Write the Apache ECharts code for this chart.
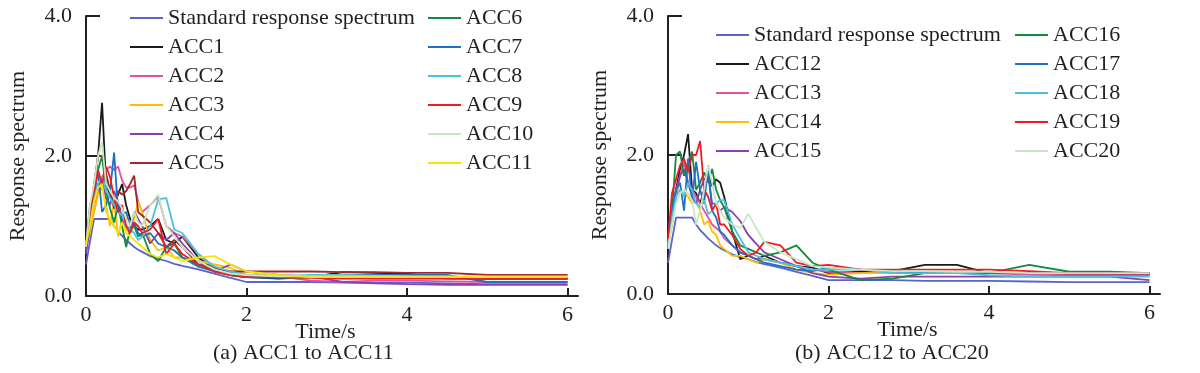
<!DOCTYPE html>
<html>
<head>
<meta charset="utf-8">
<script src="https://cdn.jsdelivr.net/npm/echarts@6/dist/echarts.min.js"></script>
<style>html,body{margin:0;padding:0;background:#fff}#c{width:1200px;height:373px}</style>
</head>
<body>
<div id="c"></div>
<script>
// Periods (s)
const T = [0,0.05,0.1,0.15,0.2,0.25,0.3,0.35,0.4,0.45,0.5,0.55,0.6,0.65,0.7,0.8,0.9,1.0,1.1,1.2,1.4,1.6,1.8,2.0,2.4,2.8,3.2,3.6,4.0,4.5,5.0,5.5,6.0];
const xTicks = [0,2,4,6];

const STD = [0.45,0.78,1.1,1.1,1.1,1.1,1.1,1.0,0.92,0.86,0.8,0.75,0.7,0.66,0.63,0.57,0.53,0.5,0.46,0.43,0.38,0.32,0.26,0.2,0.2,0.2,0.19,0.19,0.19,0.18,0.17,0.17,0.17];

// Panel (a)
const ACC1  = [0.7,1.0,1.5,2.0,2.76,1.6,1.45,1.3,1.45,1.6,1.3,1.1,1.0,0.95,0.95,1.0,1.1,0.8,0.75,0.85,0.55,0.38,0.3,0.27,0.25,0.27,0.34,0.33,0.32,0.25,0.24,0.24,0.24];
const ACC2  = [0.65,1.0,1.2,1.5,1.7,1.8,1.85,1.8,1.85,1.65,1.55,1.55,1.58,1.35,1.2,1.3,1.42,1.0,0.9,0.85,0.6,0.4,0.35,0.3,0.28,0.22,0.2,0.22,0.22,0.21,0.2,0.2,0.2];
const ACC3  = [0.72,0.9,1.2,1.45,1.55,1.3,1.0,1.35,0.85,1.1,0.95,0.9,1.1,1.35,1.2,0.8,0.65,0.7,0.55,0.55,0.5,0.45,0.4,0.3,0.28,0.27,0.26,0.26,0.26,0.25,0.25,0.25,0.25];
const ACC4  = [0.6,1.0,1.4,1.6,1.65,1.4,1.3,1.5,1.35,1.1,1.0,0.95,1.2,1.1,1.0,0.75,0.9,0.8,0.9,0.75,0.5,0.35,0.45,0.35,0.3,0.28,0.2,0.18,0.17,0.16,0.16,0.16,0.16];
const ACC5  = [0.7,1.1,1.6,2.0,2.0,1.75,1.5,1.25,1.5,1.45,1.5,1.6,1.72,1.2,1.15,1.05,0.9,0.7,0.8,0.7,0.45,0.4,0.35,0.35,0.35,0.35,0.34,0.34,0.33,0.33,0.3,0.3,0.3];
const ACC6  = [0.72,1.2,1.5,1.8,2.0,1.5,1.25,1.05,1.3,1.0,0.7,0.95,1.0,0.85,0.9,0.6,0.5,0.7,0.75,0.55,0.45,0.38,0.3,0.27,0.27,0.27,0.26,0.26,0.26,0.26,0.25,0.25,0.25];
const ACC7  = [0.75,1.3,1.4,1.8,1.2,1.3,1.5,2.05,1.2,1.15,1.2,1.0,1.05,0.9,0.85,0.9,0.75,0.7,0.65,0.55,0.42,0.35,0.3,0.27,0.26,0.27,0.3,0.3,0.3,0.3,0.2,0.2,0.2];
const ACC8  = [0.7,1.1,1.4,1.6,1.7,1.5,1.4,1.3,1.2,1.15,1.0,0.95,0.9,0.8,0.85,1.0,1.38,1.4,0.95,0.9,0.6,0.42,0.35,0.3,0.28,0.3,0.3,0.29,0.28,0.27,0.27,0.27,0.27];
const ACC9  = [0.7,1.2,1.5,1.8,1.6,1.85,1.7,1.4,1.2,1.3,1.0,0.9,1.05,1.0,0.9,0.95,1.1,0.6,0.75,0.6,0.45,0.35,0.3,0.27,0.27,0.26,0.25,0.25,0.25,0.25,0.25,0.25,0.25];
const ACC10 = [0.7,1.3,1.6,2.0,2.2,1.6,1.5,1.4,1.35,1.25,1.1,1.0,1.2,1.05,1.0,1.3,1.45,1.0,0.85,0.7,0.5,0.38,0.32,0.3,0.28,0.28,0.28,0.28,0.28,0.28,0.28,0.28,0.28];
const ACC11 = [0.75,1.0,1.35,1.55,1.6,1.2,1.1,1.0,0.9,1.05,0.9,0.85,0.8,0.75,0.7,0.6,0.55,0.6,0.55,0.5,0.55,0.57,0.45,0.35,0.3,0.27,0.27,0.27,0.27,0.27,0.27,0.27,0.27];

// Panel (b)
const ACC12 = [0.75,1.1,1.5,1.8,2.0,2.3,1.5,1.45,1.3,1.5,1.72,1.55,1.65,1.6,1.4,0.9,0.5,0.55,0.5,0.55,0.45,0.4,0.38,0.3,0.32,0.33,0.42,0.42,0.3,0.3,0.28,0.28,0.28];
const ACC13 = [0.7,1.0,1.4,1.7,1.9,1.6,1.5,1.4,1.3,1.2,1.1,1.0,0.95,0.9,0.8,0.7,0.6,0.55,0.5,0.5,0.45,0.4,0.35,0.32,0.3,0.3,0.3,0.32,0.3,0.28,0.27,0.27,0.27];
const ACC14 = [0.72,1.1,1.5,1.5,1.45,1.4,1.3,1.35,1.2,1.0,1.05,0.9,0.85,0.7,0.65,0.55,0.55,0.5,0.45,0.5,0.45,0.35,0.3,0.28,0.3,0.3,0.3,0.3,0.3,0.3,0.3,0.3,0.3];
const ACC15 = [0.7,1.1,1.5,1.7,1.8,1.6,1.4,1.3,1.5,1.65,1.7,1.3,1.3,1.2,1.25,1.18,1.05,0.85,0.72,0.6,0.5,0.4,0.3,0.25,0.22,0.25,0.25,0.25,0.25,0.25,0.25,0.25,0.2];
const ACC16 = [0.7,1.2,2.0,2.05,1.7,1.9,2.05,1.5,1.6,1.75,1.6,1.8,1.5,1.35,1.25,0.9,0.7,0.65,0.6,0.55,0.6,0.7,0.45,0.35,0.2,0.22,0.3,0.3,0.3,0.42,0.32,0.32,0.3];
const ACC17 = [0.75,1.2,1.5,1.6,1.2,1.95,1.35,1.9,1.5,1.3,1.85,1.2,1.1,0.9,0.85,0.7,0.6,0.55,0.5,0.45,0.4,0.35,0.33,0.38,0.35,0.33,0.3,0.3,0.3,0.3,0.3,0.3,0.3];
const ACC18 = [0.7,1.1,1.4,1.5,1.4,1.6,1.5,1.3,1.25,1.35,1.15,1.2,1.3,1.35,1.35,1.0,0.8,0.6,0.55,0.5,0.45,0.4,0.35,0.35,0.35,0.3,0.3,0.3,0.27,0.25,0.25,0.25,0.25];
const ACC19 = [0.8,1.45,1.65,1.85,1.95,1.75,2.0,2.0,2.2,1.5,1.4,1.2,1.3,1.0,1.0,0.85,0.65,0.55,0.6,0.75,0.7,0.45,0.4,0.42,0.35,0.35,0.35,0.35,0.35,0.33,0.3,0.3,0.3];
const ACC20 = [0.65,1.0,1.3,1.45,1.5,1.45,1.35,1.0,1.2,1.5,1.85,1.6,1.3,1.2,1.1,1.0,0.95,1.15,0.95,0.75,0.6,0.5,0.4,0.38,0.35,0.33,0.33,0.32,0.32,0.3,0.3,0.3,0.3];

const STD_NAME = 'Standard response spectrum';
const panelA = [['ACC1',ACC1],['ACC2',ACC2],['ACC3',ACC3],['ACC4',ACC4],['ACC5',ACC5],['ACC6',ACC6],['ACC7',ACC7],['ACC8',ACC8],['ACC9',ACC9],['ACC10',ACC10],['ACC11',ACC11]];
const panelB = [['ACC12',ACC12],['ACC13',ACC13],['ACC14',ACC14],['ACC15',ACC15],['ACC16',ACC16],['ACC17',ACC17],['ACC18',ACC18],['ACC19',ACC19],['ACC20',ACC20]];
const colorsA = ['#1a1a1a','#e3509b','#ffbf00','#8e3fae','#a0282c','#138a3c','#1f70c1','#47c3e0','#ee1c25','#c9e7c2','#f7e400'];
const colorsB = ['#1a1a1a','#e3509b','#ffbf00','#8e3fae','#138a3c','#1f70c1','#47c3e0','#ee1c25','#c9e7c2'];
const STD_COLOR = '#5865c6';

const FONT = 'Liberation Serif';
const INK = '#231f20';

function pts(arr){ return T.map((t,i)=>[t,arr[i]]); }
function line(name, arr, color, idx){
  return {name, type:'line', xAxisIndex:idx, yAxisIndex:idx, data:pts(arr), symbol:'none',
    lineStyle:{width:1.8, color}, itemStyle:{color}, animation:false, z:2};
}
function xAx(idx){
  return {gridIndex:idx, type:'value', min:0, max:6.13,
    axisLine:{show:true, lineStyle:{color:INK, width:2}},
    axisTick:{show:true, inside:true, length:8, customValues:xTicks, lineStyle:{color:INK, width:2}},
    axisLabel:{customValues:xTicks, fontSize:22, fontFamily:FONT, color:INK, margin:8},
    splitLine:{show:false},
    name:'Time/s', nameLocation:'middle', nameGap:25, nameMoveOverlap:false,
    nameTextStyle:{fontSize:22, fontFamily:FONT, color:INK, padding:[0,13,0,0]}};
}
function yAx(idx){
  return {gridIndex:idx, type:'value', min:0, max:4, interval:2,
    axisLine:{show:true, lineStyle:{color:INK, width:2}},
    axisTick:{show:true, inside:true, length:14, lineStyle:{color:INK, width:2}},
    axisLabel:{fontSize:22, fontFamily:FONT, color:INK, margin:14, formatter:v=>v.toFixed(1)},
    splitLine:{show:false},
    name:'Response spectrum', nameLocation:'middle', nameGap:57, nameMoveOverlap:false,
    nameTextStyle:{fontSize:22, fontFamily:FONT, color:INK}};
}
function legend(left, top, data){
  return {orient:'vertical', left, top, padding:0, itemGap:7, itemWidth:33, itemHeight:2, icon:'rect',
    textStyle:{fontSize:22, fontFamily:FONT, color:INK, lineHeight:22}, data, selectedMode:false};
}

const series = [line(STD_NAME, STD, STD_COLOR, 0)];
panelA.forEach((p,i)=>series.push(line(p[0], p[1], colorsA[i], 0)));
series.push(line(STD_NAME, STD, STD_COLOR, 1));
panelB.forEach((p,i)=>series.push(line(p[0], p[1], colorsB[i], 1)));

const option = {
  backgroundColor:'#fff',
  animation:false,
  textStyle:{fontFamily:FONT},
  title:[
    {text:'(a) ACC1 to ACC11', left:213, top:342, padding:0, textStyle:{fontSize:22, fontWeight:'normal', fontFamily:FONT, color:INK}},
    {text:'(b) ACC12 to ACC20', left:795, top:342, padding:0, textStyle:{fontSize:22, fontWeight:'normal', fontFamily:FONT, color:INK}}
  ],
  legend:[
    legend(130, 7, [STD_NAME,'ACC1','ACC2','ACC3','ACC4','ACC5']),
    legend(428, 7, ['ACC6','ACC7','ACC8','ACC9','ACC10','ACC11']),
    legend(716, 24, [STD_NAME,'ACC12','ACC13','ACC14','ACC15']),
    legend(1015, 24, ['ACC16','ACC17','ACC18','ACC19','ACC20'])
  ],
  grid:[
    {left:86, right:622, top:16, bottom:77},
    {left:668, right:40, top:16, bottom:79}
  ],
  xAxis:[xAx(0), xAx(1)],
  yAxis:[yAx(0), yAx(1)],
  series
};
const chart = echarts.init(document.getElementById('c'), null, {renderer:'canvas'});
chart.setOption(option);
</script>
</body>
</html>
